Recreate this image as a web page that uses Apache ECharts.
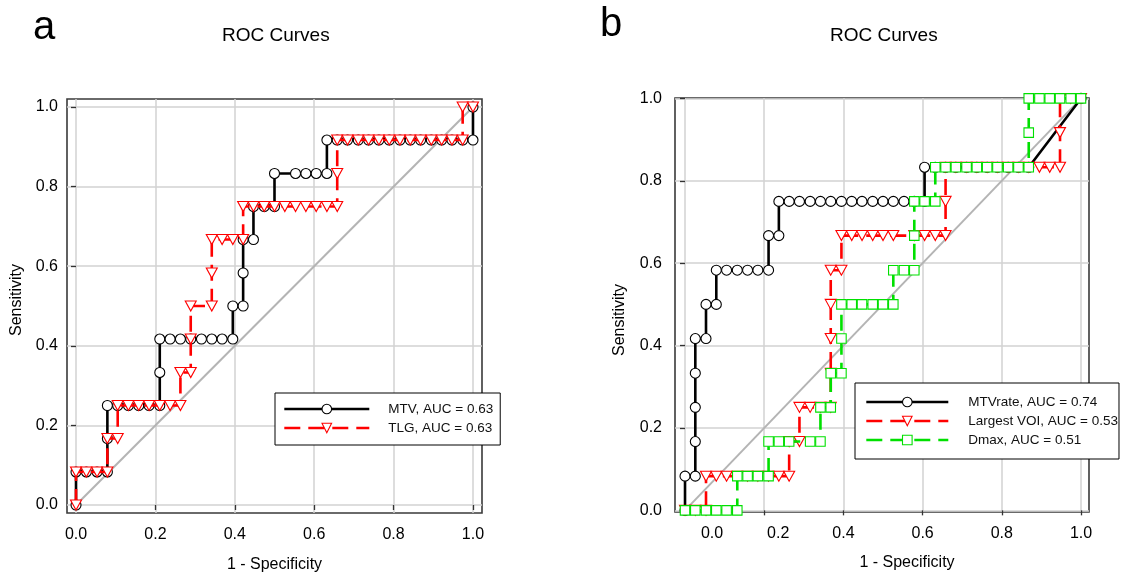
<!DOCTYPE html>
<html>
<head>
<meta charset="utf-8">
<title>ROC Curves</title>
<script src="https://cdn.jsdelivr.net/npm/echarts@6/dist/echarts.min.js"></script>
<style>
  html, body { margin: 0; padding: 0; background: #fff; }
  #chart { width: 1130px; height: 578px; }
</style>
</head>
<body>
<div id="chart"></div>
<script>
// Tick positions shared by every axis
const ticks = [0, 0.2, 0.4, 0.6, 0.8, 1.0];

// Panel a: ROC points as [1 - specificity, sensitivity]
const mtvA = [[0,0],[0,0.083],[0.026,0.083],[0.053,0.083],[0.079,0.083],[0.079,0.167],[0.079,0.25],
  [0.105,0.25],[0.132,0.25],[0.158,0.25],[0.184,0.25],[0.211,0.25],[0.211,0.333],[0.211,0.417],
  [0.237,0.417],[0.263,0.417],[0.289,0.417],[0.316,0.417],[0.342,0.417],[0.368,0.417],[0.395,0.417],
  [0.395,0.5],[0.421,0.5],[0.421,0.583],[0.421,0.667],[0.447,0.667],[0.447,0.75],[0.474,0.75],
  [0.5,0.75],[0.5,0.833],[0.553,0.833],[0.579,0.833],[0.605,0.833],[0.632,0.833],[0.632,0.917],
  [0.658,0.917],[0.684,0.917],[0.711,0.917],[0.737,0.917],[0.763,0.917],[0.789,0.917],[0.816,0.917],
  [0.842,0.917],[0.868,0.917],[0.895,0.917],[0.921,0.917],[0.947,0.917],[0.974,0.917],[1,0.917],[1,1]];

const tlgA = [[0,0],[0,0.083],[0.026,0.083],[0.053,0.083],[0.079,0.083],[0.079,0.167],[0.105,0.167],
  [0.105,0.25],[0.132,0.25],[0.158,0.25],[0.184,0.25],[0.211,0.25],[0.237,0.25],[0.263,0.25],
  [0.263,0.333],[0.289,0.333],[0.289,0.417],[0.289,0.5],[0.342,0.5],[0.342,0.583],[0.342,0.667],
  [0.368,0.667],[0.395,0.667],[0.421,0.667],[0.421,0.75],[0.447,0.75],[0.474,0.75],[0.5,0.75],
  [0.526,0.75],[0.553,0.75],[0.579,0.75],[0.605,0.75],[0.632,0.75],[0.658,0.75],[0.658,0.833],
  [0.658,0.917],[0.684,0.917],[0.711,0.917],[0.737,0.917],[0.763,0.917],[0.789,0.917],[0.816,0.917],
  [0.842,0.917],[0.868,0.917],[0.895,0.917],[0.921,0.917],[0.947,0.917],[0.974,0.917],[0.974,1],[1,1]];

// Panel b
const mtvRateB = [[0,0],[0,0.083],[0.026,0.083],[0.026,0.167],[0.026,0.25],[0.026,0.333],[0.026,0.417],
  [0.053,0.417],[0.053,0.5],[0.079,0.5],[0.079,0.583],[0.105,0.583],[0.132,0.583],[0.158,0.583],
  [0.184,0.583],[0.211,0.583],[0.211,0.667],[0.237,0.667],[0.237,0.75],[0.263,0.75],[0.289,0.75],
  [0.316,0.75],[0.342,0.75],[0.368,0.75],[0.395,0.75],[0.421,0.75],[0.447,0.75],[0.474,0.75],
  [0.5,0.75],[0.526,0.75],[0.553,0.75],[0.579,0.75],[0.605,0.75],[0.605,0.833],[0.632,0.833],
  [0.658,0.833],[0.684,0.833],[0.711,0.833],[0.737,0.833],[0.763,0.833],[0.789,0.833],[0.816,0.833],
  [0.842,0.833],[0.868,0.833],[1,1]];

const largestVoiB = [[0,0],[0.026,0],[0.053,0],[0.053,0.083],[0.079,0.083],[0.105,0.083],[0.132,0.083],
  [0.158,0.083],[0.184,0.083],[0.211,0.083],[0.237,0.083],[0.263,0.083],[0.263,0.167],[0.289,0.167],
  [0.289,0.25],[0.316,0.25],[0.342,0.25],[0.368,0.25],[0.368,0.333],[0.368,0.417],[0.368,0.5],
  [0.368,0.583],[0.395,0.583],[0.395,0.667],[0.421,0.667],[0.447,0.667],[0.474,0.667],[0.5,0.667],
  [0.526,0.667],[0.579,0.667],[0.605,0.667],[0.632,0.667],[0.658,0.667],[0.658,0.75],[0.658,0.833],
  [0.684,0.833],[0.711,0.833],[0.737,0.833],[0.763,0.833],[0.789,0.833],[0.816,0.833],[0.842,0.833],
  [0.868,0.833],[0.895,0.833],[0.921,0.833],[0.947,0.833],[0.947,0.917],[0.947,1],[0.974,1],[1,1]];

const dmaxB = [[0,0],[0.026,0],[0.053,0],[0.079,0],[0.105,0],[0.132,0],[0.132,0.083],[0.158,0.083],
  [0.184,0.083],[0.211,0.083],[0.211,0.167],[0.237,0.167],[0.263,0.167],[0.316,0.167],[0.342,0.167],
  [0.342,0.25],[0.368,0.25],[0.368,0.333],[0.395,0.333],[0.395,0.417],[0.395,0.5],[0.421,0.5],
  [0.447,0.5],[0.474,0.5],[0.5,0.5],[0.526,0.5],[0.526,0.583],[0.553,0.583],[0.579,0.583],
  [0.579,0.667],[0.579,0.75],[0.605,0.75],[0.632,0.75],[0.632,0.833],[0.658,0.833],[0.684,0.833],
  [0.711,0.833],[0.737,0.833],[0.763,0.833],[0.789,0.833],[0.816,0.833],[0.842,0.833],[0.868,0.833],
  [0.868,0.917],[0.868,1],[0.895,1],[0.921,1],[0.947,1],[0.974,1],[1,1]];

// Chance line
const chance = [[0,0],[1,1]];

const namesA = ['MTV, AUC = 0.63', 'TLG, AUC = 0.63'];
const namesB = ['MTVrate, AUC = 0.74', 'Largest VOI, AUC = 0.53', 'Dmax, AUC = 0.51'];

const FONT = 'Liberation Sans, Arial, Helvetica, sans-serif';
const RED = '#ff0000', GREEN = '#00e000', BLACK = '#000000';
const DASH = [16, 8];

const fmt = v => v.toFixed(1);
const gridLine = { show: true, lineStyle: { color: '#d2d2d2', width: 1.5 } };
const tickStyle = { show: true, inside: false, length: 5, customValues: ticks,
  lineStyle: { color: '#333', width: 1.3 } };

function valueAxis(extra) {
  return Object.assign({
    type: 'value',
    axisLine: { show: false },
    axisTick: tickStyle,
    splitLine: gridLine,
    nameLocation: 'middle',
    nameTextStyle: { fontSize: 16, color: '#000', fontFamily: FONT }
  }, extra);
}

function curve(name, data, xi, color, symbol, size, dashed, z) {
  return {
    type: 'line', name, data, xAxisIndex: xi, yAxisIndex: xi,
    symbol, symbolSize: size, symbolRotate: symbol === 'triangle' ? 180 : 0,
    showAllSymbol: true, clip: false, z,
    lineStyle: { color, width: 2.6, type: dashed ? DASH : 'solid' },
    itemStyle: { color: '#ffffff', borderColor: color, borderWidth: 1.1 },
    emphasis: { disabled: true }, silent: true
  };
}

function legendItem(name, color, dashed) {
  return { name,
    itemStyle: { color: '#ffffff', borderColor: color, borderWidth: 1.1 },
    lineStyle: { color, width: 2.6, type: dashed ? DASH : 'solid' } };
}

const legendBase = {
  orient: 'vertical', selectedMode: false, backgroundColor: '#ffffff',
  borderColor: '#000', borderWidth: 1, borderRadius: 0,
  itemGap: 5, itemHeight: 12,
  textStyle: { fontSize: 13.5, color: '#111', fontFamily: FONT, padding: [0, 0, 0, 14] }
};

const titleStyle = (size) => ({ fontSize: size, fontWeight: 'normal', color: '#000', fontFamily: FONT });

const option = {
  animation: false,
  backgroundColor: '#ffffff',
  title: [
    { text: 'a', left: 33, top: 8, padding: 0, textStyle: titleStyle(40) },
    { text: 'ROC Curves', left: 222, top: 26, padding: 0, textStyle: titleStyle(19) },
    { text: 'b', left: 600, top: 5, padding: 0, textStyle: titleStyle(40) },
    { text: 'ROC Curves', left: 830, top: 26, padding: 0, textStyle: titleStyle(19) }
  ],
  legend: [
    Object.assign({}, legendBase, {
      left: 275, top: 393, padding: [9, 7, 10, 8], itemWidth: 85,
      data: [legendItem(namesA[0], BLACK, false), legendItem(namesA[1], RED, true)]
    }),
    Object.assign({}, legendBase, {
      left: 855, top: 383, padding: [12, 1, 12, 10], itemWidth: 82,
      textStyle: Object.assign({}, legendBase.textStyle, { padding: [0, 0, 0, 15] }),
      data: [legendItem(namesB[0], BLACK, false), legendItem(namesB[1], RED, true),
             legendItem(namesB[2], GREEN, true)]
    })
  ],
  grid: [
    { left: 67, top: 99, width: 415, height: 414, show: true, borderColor: '#3a3a3a', borderWidth: 1.6 },
    { left: 675, top: 98, width: 414, height: 414, show: true, borderColor: '#3a3a3a', borderWidth: 1.6 }
  ],
  xAxis: [
    valueAxis({ gridIndex: 0, min: -0.0227, max: 1.0227,
      axisLabel: { customValues: ticks, formatter: fmt, fontSize: 16, margin: 14, color: '#000', fontFamily: FONT },
      name: '1 - Specificity', nameGap: 44 }),
    valueAxis({ gridIndex: 1, min: -0.0253, max: 1.0202,
      axisLabel: { customValues: ticks, fontSize: 16, margin: 14, color: '#000', fontFamily: FONT,
        formatter: v => v < 0.1 ? '{p0|' + fmt(v) + '}' : (v < 0.3 ? '{p2|' + fmt(v) + '}' : fmt(v)),
        rich: {
          p0: { padding: [0, 0, 0, 54], fontSize: 16, color: '#000', fontFamily: FONT },
          p2: { padding: [0, 0, 0, 28], fontSize: 16, color: '#000', fontFamily: FONT }
        } },
      name: '1 - Specificity', nameGap: 43,
      nameTextStyle: { fontSize: 16, color: '#000', fontFamily: FONT, padding: [0, 0, 0, 50] } })
  ],
  yAxis: [
    valueAxis({ gridIndex: 0, min: -0.0201, max: 1.0201,
      axisLabel: { customValues: ticks, formatter: fmt, fontSize: 16, margin: 9, color: '#000', fontFamily: FONT },
      name: 'Sensitivity', nameGap: 42,
      nameTextStyle: { fontSize: 16, color: '#000', fontFamily: FONT, padding: [0, 0, 0, 12] } }),
    valueAxis({ gridIndex: 1, min: -0.004, max: 1.001,
      axisLabel: { customValues: ticks, formatter: fmt, fontSize: 16, margin: 13, color: '#000', fontFamily: FONT },
      name: 'Sensitivity', nameGap: 47,
      nameTextStyle: { fontSize: 16, color: '#000', fontFamily: FONT, padding: [0, 30, 0, 0] } })
  ],
  series: [
    { type: 'line', name: 'chanceA', data: chance, xAxisIndex: 0, yAxisIndex: 0, symbol: 'none', z: 1,
      lineStyle: { color: '#b4b4b4', width: 2 }, silent: true, emphasis: { disabled: true } },
    curve(namesA[0], mtvA, 0, BLACK, 'circle', 10, false, 3),
    curve(namesA[1], tlgA, 0, RED, 'triangle', [11, 10], true, 4),
    { type: 'line', name: 'chanceB', data: chance, xAxisIndex: 1, yAxisIndex: 1, symbol: 'none', z: 1,
      lineStyle: { color: '#b4b4b4', width: 2 }, silent: true, emphasis: { disabled: true } },
    curve(namesB[0], mtvRateB, 1, BLACK, 'circle', 10, false, 3),
    curve(namesB[1], largestVoiB, 1, RED, 'triangle', [11, 10], true, 4),
    curve(namesB[2], dmaxB, 1, GREEN, 'rect', 9.5, true, 5)
  ]
};

const chart = echarts.init(document.getElementById('chart'), null, { renderer: 'canvas' });
chart.setOption(option);
</script>
</body>
</html>
